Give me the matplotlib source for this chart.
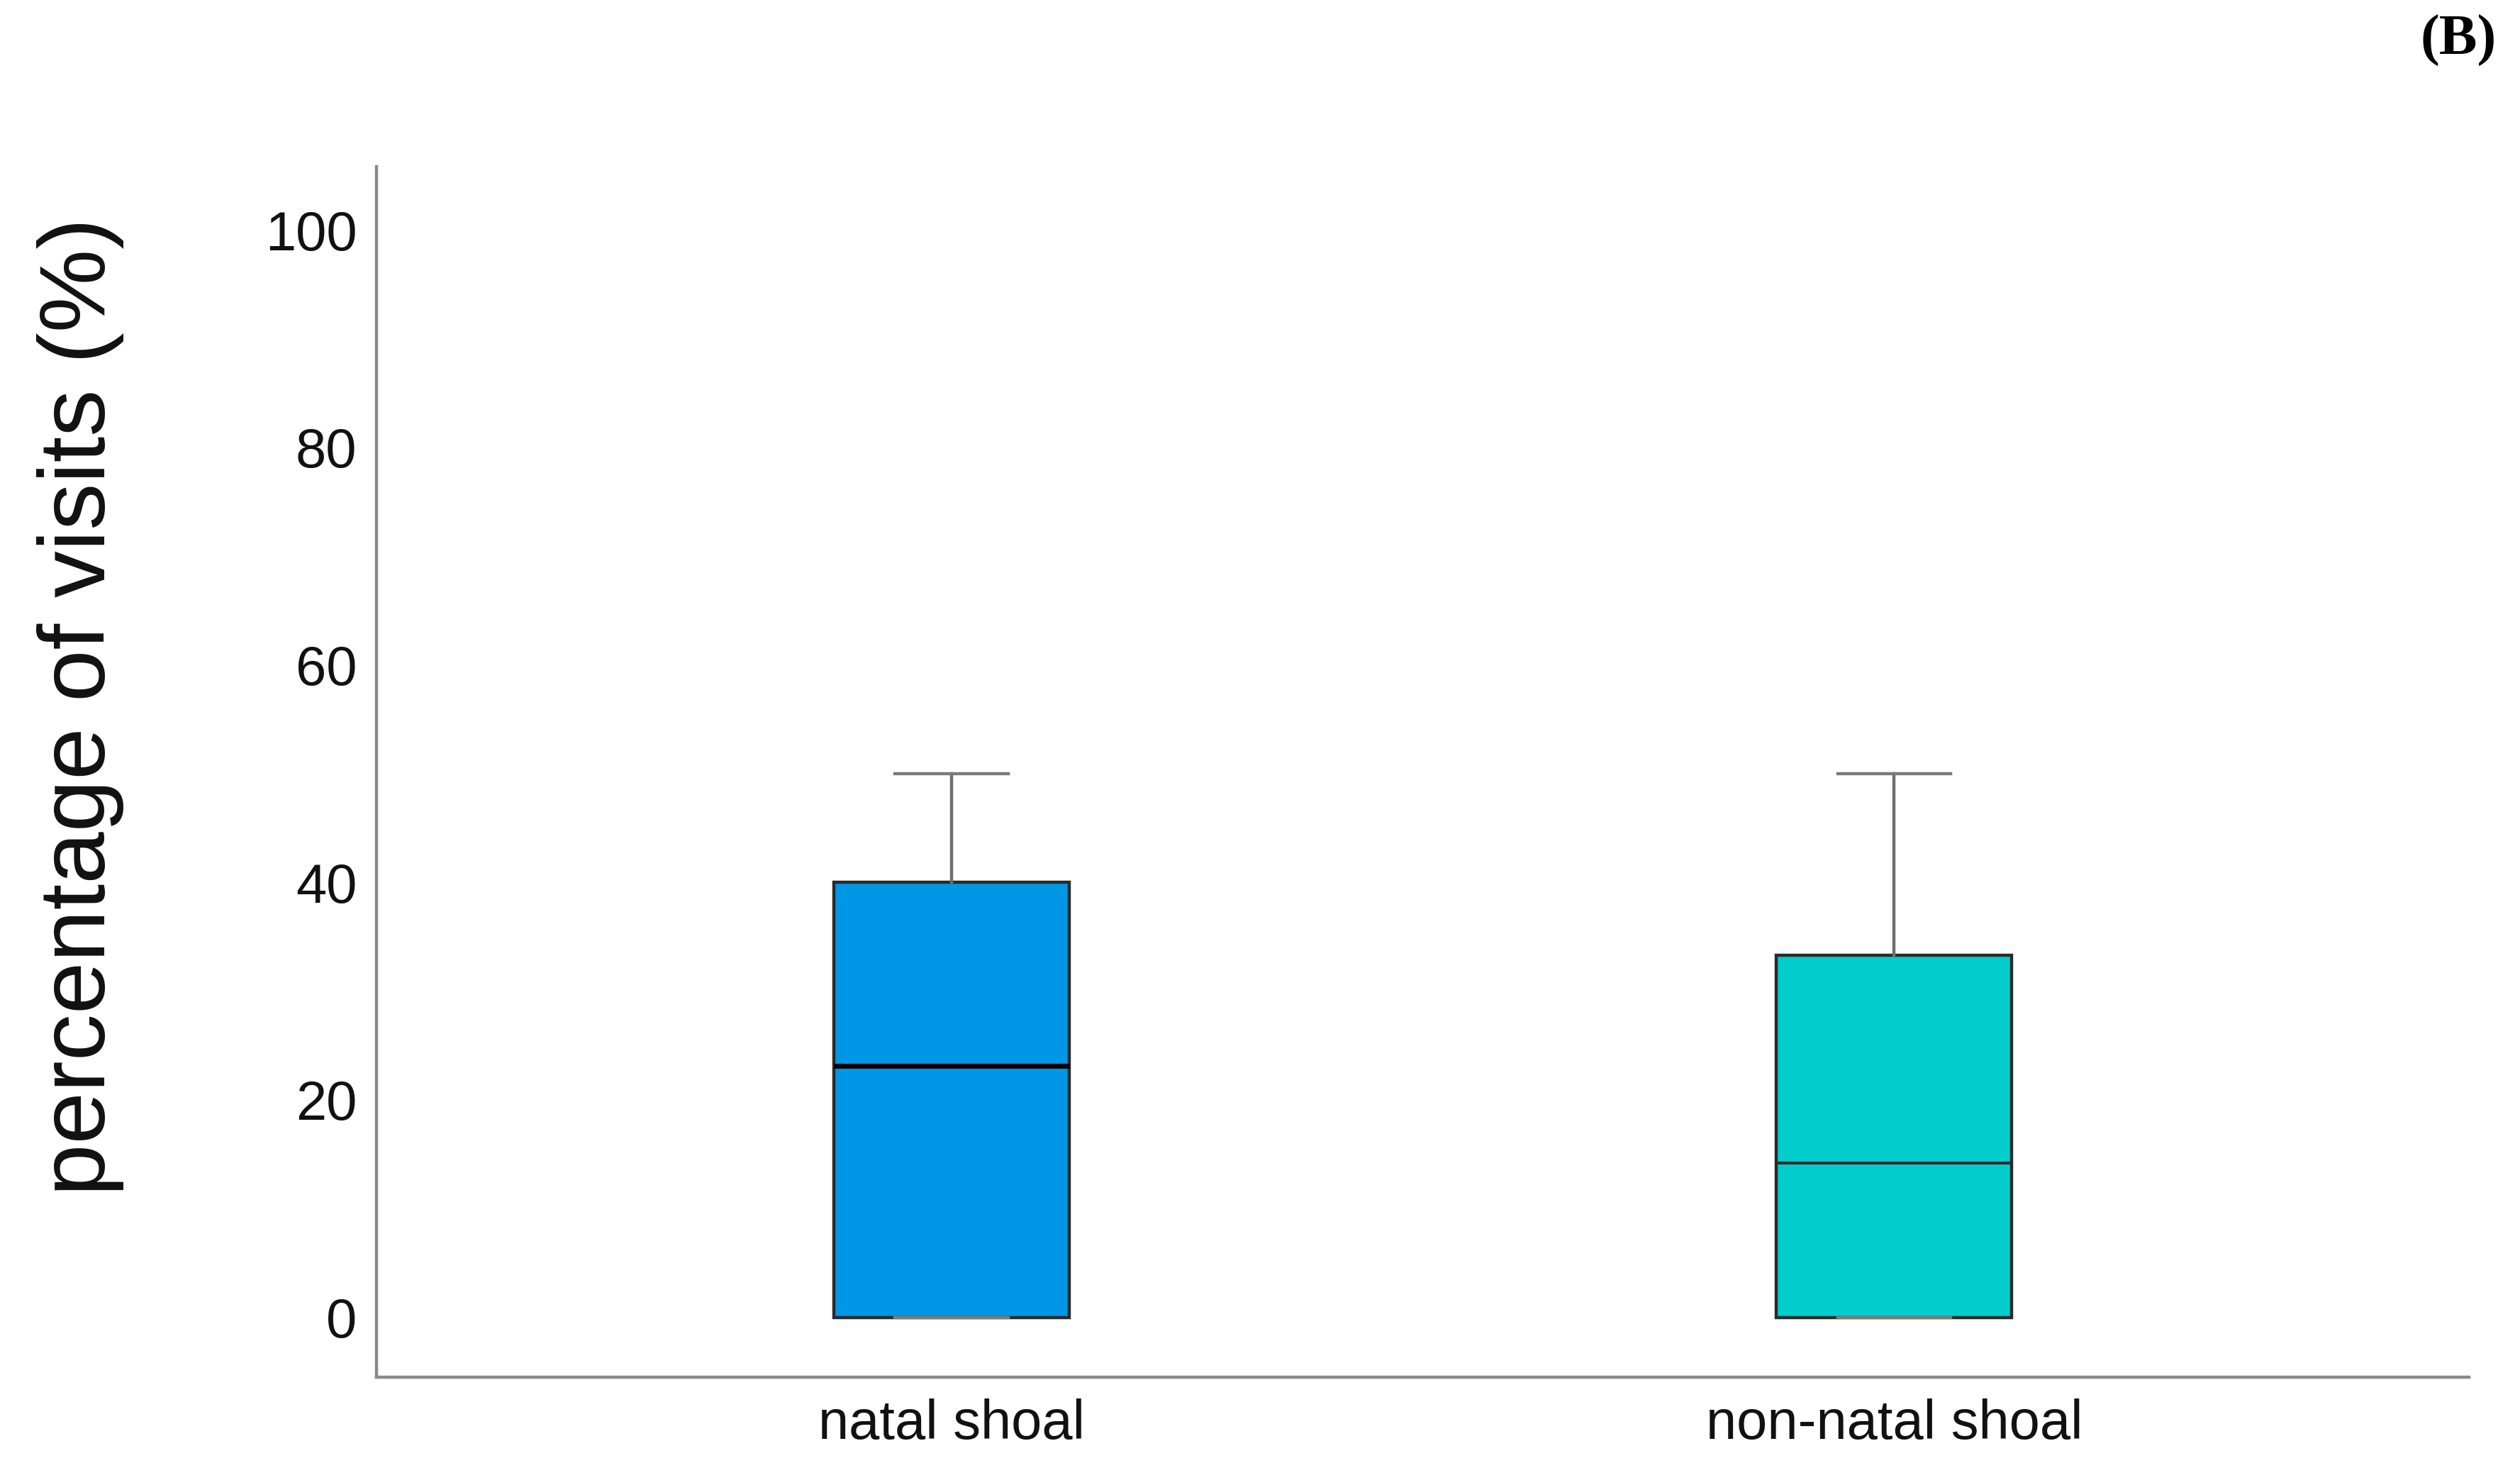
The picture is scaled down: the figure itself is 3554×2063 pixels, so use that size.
import matplotlib
matplotlib.use("Agg")
import matplotlib.pyplot as plt

# data (percent of visits)
groups = ["natal shoal", "non-natal shoal"]
whisker_low = [0, 0]
q1 = [0, 0]
medians = [23.1, 14.2]
q3 = [40, 33.3]
whisker_high = [50, 50]
y_ticks = [0, 20, 40, 60, 80, 100]

box_colors = ["#0096e6", "#00cdcc"]
median_colors = ["#000000", "#2b2b2b"]
median_widths = [5.0, 3.0]

plt.rcParams['font.family'] = ['Liberation Sans', 'DejaVu Sans']

fig = plt.figure(figsize=(35.55, 20.63), dpi=100)
ax = fig.add_axes([0.1494, 0.0587, 0.9795 - 0.1494, 0.886 - 0.0587])

stats = []
for i in range(len(groups)):
    stats.append({
        'label': groups[i],
        'whislo': whisker_low[i],
        'q1': q1[i],
        'med': medians[i],
        'q3': q3[i],
        'whishi': whisker_high[i],
        'fliers': [],
    })

positions = list(range(len(groups)))
bp = ax.bxp(stats, positions=positions, widths=0.25, capwidths=0.12,
            patch_artist=True, showfliers=False,
            boxprops=dict(edgecolor="#2a2a2a", linewidth=3.2),
            whiskerprops=dict(color="#6e6e6e", linewidth=3.2),
            capprops=dict(color="#7a7a7a", linewidth=3.2))

for i, box in enumerate(bp['boxes']):
    box.set_facecolor(box_colors[i])
for i, med in enumerate(bp['medians']):
    med.set_color(median_colors[i])
    med.set_linewidth(median_widths[i])

ax.set_xlim(-0.61, 1.61)
ax.set_ylim(-5.5, 105.8)
ax.set_yticks(y_ticks)
ax.set_yticklabels([str(v) for v in y_ticks])
ax.set_xticks(positions)
ax.set_xticklabels(groups)
ax.tick_params(axis='both', length=0, labelsize=56, colors="#111111")
ax.tick_params(axis='y', pad=20)
ax.tick_params(axis='x', pad=22)

for side in ['top', 'right']:
    ax.spines[side].set_visible(False)
for side in ['left', 'bottom']:
    ax.spines[side].set_color("#8a8a8a")
    ax.spines[side].set_linewidth(3.2)

fig.text(0.032, 0.517, "percentage of visits (%)", rotation=90,
         ha='center', va='center', fontsize=95, color="#111111")

fig.text(0.9905, 0.972, "(B)", ha='right', va='center', fontsize=58,
         fontweight='bold', family=['Liberation Serif', 'DejaVu Serif'])

fig.savefig("out.png", dpi=100, facecolor="white")
